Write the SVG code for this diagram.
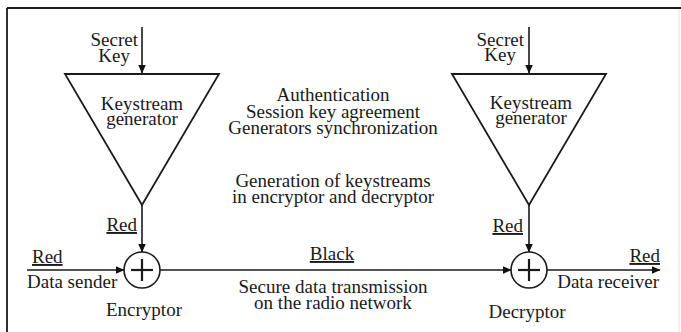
<svg xmlns="http://www.w3.org/2000/svg" width="681" height="332" viewBox="0 0 681 332">
<defs>
<marker id="ah" markerWidth="9" markerHeight="8" refX="8.5" refY="4" orient="auto" markerUnits="userSpaceOnUse">
<path d="M0,0 L9,4 L0,8 z" fill="#111"/>
</marker>
<style>
text{font-family:"Liberation Serif","Times New Roman",serif;font-size:19px;fill:#1a1a1a}
.c{text-anchor:middle}
.e{text-anchor:end}
.u{text-decoration:underline}
.ln{stroke:#1a1a1a;stroke-width:1.6;fill:none}
.tri{stroke:#1a1a1a;stroke-width:1.8;fill:#fff}
.xor{stroke:#1a1a1a;stroke-width:1.6;fill:#fff}
.plus{stroke:#1a1a1a;stroke-width:2.2}
</style>
</defs>
<rect width="681" height="332" fill="#fff"/>
<g id="frame">
<line x1="7" y1="8" x2="681" y2="8" stroke="#1a1a1a" stroke-width="1.8"/>
<line x1="7" y1="8" x2="7" y2="332" stroke="#1a1a1a" stroke-width="1.8"/>
<line x1="679" y1="9" x2="679" y2="332" stroke="#e4e4e4" stroke-width="1"/>
</g>
<g id="connectors">
<line class="ln" x1="142" y1="27" x2="142" y2="73" marker-end="url(#ah)"/>
<line class="ln" x1="529" y1="27" x2="529" y2="73" marker-end="url(#ah)"/>
<line class="ln" x1="142" y1="205" x2="142" y2="252" marker-end="url(#ah)"/>
<line class="ln" x1="529" y1="205" x2="529" y2="252" marker-end="url(#ah)"/>
<line class="ln" x1="27" y1="270" x2="124" y2="270" marker-end="url(#ah)"/>
<line class="ln" x1="160" y1="270" x2="511" y2="270" marker-end="url(#ah)"/>
<line class="ln" x1="547" y1="270" x2="660" y2="270" marker-end="url(#ah)"/>
</g>
<g id="keygen-left">
<polygon class="tri" points="65,74 219,74 142,205"/>
<text class="c"><tspan x="142" y="110">Keystream</tspan><tspan x="142" y="125">generator</tspan></text>
</g>
<g id="secret-left">
<text class="e"><tspan x="138" y="46">Secret</tspan><tspan x="130" y="62">Key</tspan></text>
</g>
<g id="keygen-right">
<polygon class="tri" points="452,74 606,74 529,205"/>
<text class="c"><tspan x="531" y="109">Keystream</tspan><tspan x="531" y="124">generator</tspan></text>
</g>
<g id="secret-right">
<text class="e"><tspan x="524" y="46">Secret</tspan><tspan x="516" y="61">Key</tspan></text>
</g>
<g id="encryptor">
<circle class="xor" cx="142" cy="270" r="18"/>
<line class="plus" x1="131" y1="270" x2="153" y2="270"/>
<line class="plus" x1="142" y1="259" x2="142" y2="281"/>
<text class="c" x="144" y="316">Encryptor</text>
</g>
<g id="decryptor">
<circle class="xor" cx="529" cy="270" r="18"/>
<line class="plus" x1="518" y1="270" x2="540" y2="270"/>
<line class="plus" x1="529" y1="259" x2="529" y2="281"/>
<text class="c" x="527" y="318">Decryptor</text>
</g>
<g id="labels">
<text class="c"><tspan x="333" y="101">Authentication</tspan><tspan x="333" y="118">Session key agreement</tspan><tspan x="333" y="134">Generators synchronization</tspan></text>
<text class="c"><tspan x="333" y="187">Generation of keystreams</tspan><tspan x="333" y="203">in encryptor and decryptor</tspan></text>
<text class="e u" x="137" y="231">Red</text>
<text class="e u" x="523" y="232">Red</text>
<text class="u" x="32" y="263">Red</text>
<text x="27" y="288">Data sender</text>
<text class="c u" x="332" y="260">Black</text>
<text class="c"><tspan x="333" y="293">Secure data transmission</tspan><tspan x="333" y="309">on the radio network</tspan></text>
<text class="e u" x="660" y="262">Red</text>
<text class="e" x="659" y="288">Data receiver</text>
</g>
</svg>
